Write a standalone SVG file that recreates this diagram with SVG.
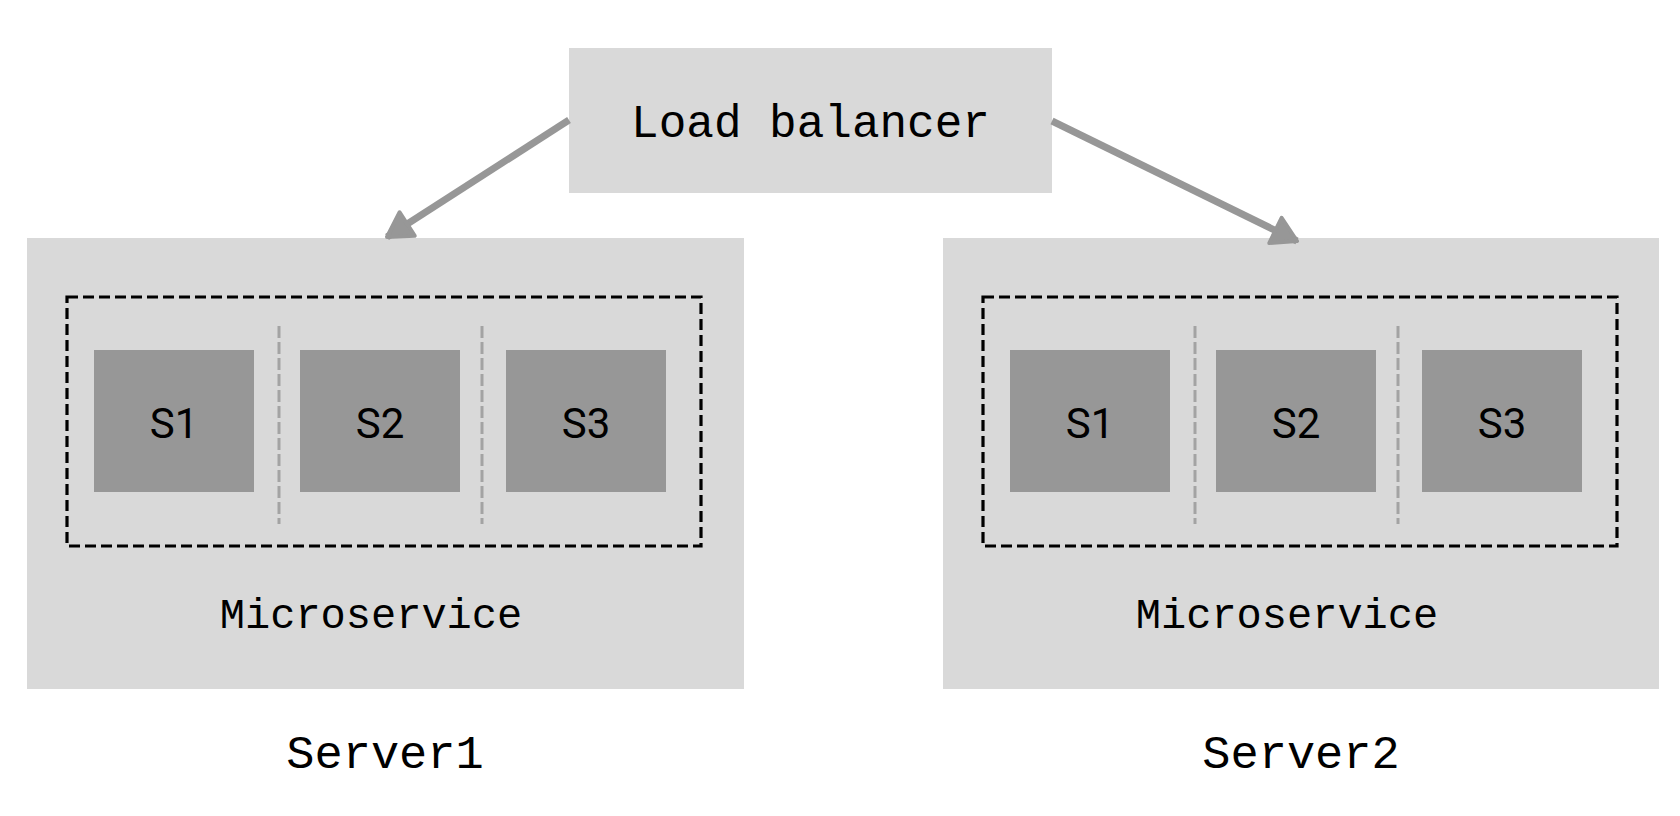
<svg xmlns="http://www.w3.org/2000/svg" width="1680" height="816" viewBox="0 0 1680 816">
  <style>
    .box { fill: #d9d9d9; }
    .svc { fill: #979797; }
    .dash { fill: none; stroke: #000; stroke-width: 3.2; stroke-dasharray: 11 5; }
    .sep { stroke: #a3a3a3; stroke-width: 3; stroke-dasharray: 12 4; }
    .mono { font-family: "Liberation Mono", "DejaVu Sans Mono", monospace; fill: #000; text-anchor: middle; }
    .sl { font-family: Roboto, "Liberation Sans", sans-serif; font-size: 42px; fill: #000; text-anchor: middle; }
    .conn { stroke: #979797; stroke-width: 7; fill: none; }
  </style>
  <defs>
    <marker id="ah" viewBox="-4 -18 32 36" refX="24" refY="0" markerWidth="32" markerHeight="36" markerUnits="userSpaceOnUse" orient="auto">
      <path d="M0,-14 L24,0 L0,14 Z" fill="#979797" stroke="#979797" stroke-width="4" stroke-linejoin="round"/>
    </marker>
  </defs>
  <rect width="1680" height="816" fill="#fff"/>

  <g id="load-balancer">
    <rect class="box" x="569" y="48" width="483" height="145"/>
    <text class="mono" x="810.5" y="137" font-size="46">Load balancer</text>
  </g>

  <g id="server1">
    <rect class="box" x="27" y="238" width="717" height="451"/>
    <rect class="dash" x="67" y="297" width="634" height="249"/>
    <line class="sep" x1="279" y1="326" x2="279" y2="524"/>
    <line class="sep" x1="482" y1="326" x2="482" y2="524"/>
    <g id="server1-s1"><rect class="svc" x="94" y="350" width="160" height="142"/><text class="sl" x="174" y="438">S1</text></g>
    <g id="server1-s2"><rect class="svc" x="300" y="350" width="160" height="142"/><text class="sl" x="380" y="438">S2</text></g>
    <g id="server1-s3"><rect class="svc" x="506" y="350" width="160" height="142"/><text class="sl" x="586" y="438">S3</text></g>
    <text class="mono" x="371" y="628" font-size="42">Microservice</text>
    <text class="mono" x="385" y="768" font-size="47">Server1</text>
  </g>

  <g id="server2">
    <rect class="box" x="943" y="238" width="716" height="451"/>
    <rect class="dash" x="983" y="297" width="634" height="249"/>
    <line class="sep" x1="1195" y1="326" x2="1195" y2="524"/>
    <line class="sep" x1="1398" y1="326" x2="1398" y2="524"/>
    <g id="server2-s1"><rect class="svc" x="1010" y="350" width="160" height="142"/><text class="sl" x="1090" y="438">S1</text></g>
    <g id="server2-s2"><rect class="svc" x="1216" y="350" width="160" height="142"/><text class="sl" x="1296" y="438">S2</text></g>
    <g id="server2-s3"><rect class="svc" x="1422" y="350" width="160" height="142"/><text class="sl" x="1502" y="438">S3</text></g>
    <text class="mono" x="1287" y="628" font-size="42">Microservice</text>
    <text class="mono" x="1301" y="768" font-size="47">Server2</text>
  </g>

  <g id="connectors">
    <line class="conn" x1="569" y1="120" x2="387" y2="237" marker-end="url(#ah)"/>
    <line class="conn" x1="1052" y1="121" x2="1297" y2="241" marker-end="url(#ah)"/>
  </g>
</svg>
